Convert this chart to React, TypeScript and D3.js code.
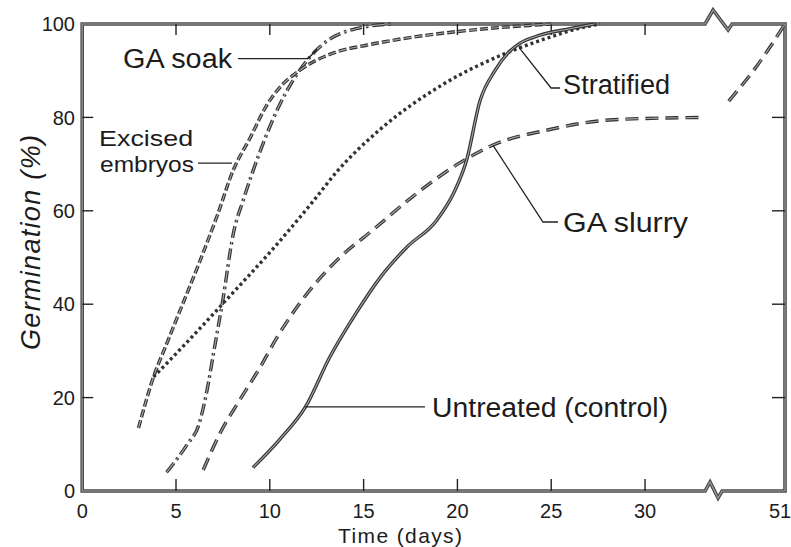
import React from 'react';
import * as d3 from 'd3';

// ---- data (days, % germination) ----
const gaSoakDays = [4.5, 5.6, 6.2, 6.65, 7.0, 7.5, 8.05, 8.6, 9.1, 9.65, 10.5, 11.25, 12.15, 13.1, 14.6, 16.5];
const gaSoakPct = [4, 10, 14, 21.5, 29.5, 41, 55, 62.5, 68.5, 74.5, 82.5, 88, 93, 96.5, 99, 100];

const excisedDays = [3.0, 3.8, 4.5, 5.2, 6.3, 7.2, 8.05, 8.95, 9.85, 10.55, 11.6, 13.4, 15.2, 17, 21, 25];
const excisedPct = [13.5, 24.4, 31.5, 38.5, 49.5, 59, 68.7, 75.6, 82.7, 86.5, 90.1, 93.8, 95.5, 96.8, 98.8, 100];

const stratifiedDays = [3.8, 5.5, 7.7, 10.2, 12.3, 13.6, 15.9, 19.2, 22.5, 24.8, 26.5, 27.6];
const stratifiedPct = [24.4, 31.5, 41, 52, 62, 68.5, 77.5, 87, 93.6, 97, 99.1, 100];

const gaSlurryDays = [6.45, 7.35, 8.4, 9.5, 10.4, 11.45, 13.6, 15.5, 17.6, 20.1, 21.9, 24.8, 28.3, 33];
const gaSlurryPct = [4.5, 12.4, 19.5, 26.6, 33, 39.4, 49.5, 55.9, 63, 70.2, 74.1, 77.3, 79.5, 80];
const gaSlurryLateDays = [48, 49.5, 51];
const gaSlurryLatePct = [83.5, 91, 100];

const untreatedDays = [9.1, 10.5, 11.9, 13.2, 14.6, 15.9, 17.3, 18.9, 19.8, 20.5, 21.2, 22.0, 22.7, 23.3, 24.4, 26.0, 27.3];
const untreatedPct = [5, 10.9, 18, 28.7, 38.1, 45.8, 52.2, 58, 63.8, 71, 83.5, 90, 93.8, 95.8, 97.6, 99, 100];

const xTicks = [5, 10, 15, 20, 25, 30];
const xTickLabels = ['0', '5', '10', '15', '20', '25', '30', '51'];
const xTickLabelDays = [0, 5, 10, 15, 20, 25, 30, 51];
const yTicks = [20, 40, 60, 80];
const yTickLabels = ['0', '20', '40', '60', '80', '100'];
const yTickLabelVals = [0, 20, 40, 60, 80, 100];

const zip = (a: number[], b: number[]) => a.map((v, i) => [v, b[i]] as [number, number]);

export default function App() {
  const W = 791, H = 547;
  const x = d3.scaleLinear().domain([0, 33.5, 48, 51]).range([82.2, 710.7, 728.7, 785]);
  const y = d3.scaleLinear().domain([0, 100]).range([491, 24]);
  const line = d3.line<[number, number]>().x(d => x(d[0])).y(d => y(d[1])).curve(d3.curveMonotoneX);

  const x0 = x(0), x1 = x(51), y0 = y(0), yT = y(100);
  const bl = x(33.2);
  const frame = [
    `M${x0},${yT}L${x0},${y0}L${bl},${y0}L${bl + 5},${y0 - 9}L${bl + 13},${y0 + 7}L${bl + 17},${y0}L${x1},${y0}`,
    `L${x1},${yT}L${bl + 27},${yT}L${bl + 23},${yT + 6}L${bl + 8},${yT - 14}L${bl},${yT}Z`,
  ].join('');

  const series = [
    { pts: zip(gaSoakDays, gaSoakPct), dash: '12 4 2.5 4', inner: true },
    { pts: zip(excisedDays, excisedPct), dash: '8 3', inner: true },
    { pts: zip(stratifiedDays, stratifiedPct), dash: '3 3', inner: false },
    { pts: zip(gaSlurryDays, gaSlurryPct), dash: '13 7', inner: true },
    { pts: zip(gaSlurryLateDays, gaSlurryLatePct), dash: '13 7', inner: true },
    { pts: zip(untreatedDays, untreatedPct), dash: undefined as string | undefined, inner: true },
  ];

  const font = "'Liberation Sans', Arial, sans-serif";
  const textFill = '#1c1c1c';

  // annotations (positions in data units)
  const labels = [
    { t: 'GA soak', d: 2.18, p: 90.6, w: 109, fs: 27 },
    { t: 'Excised', d: 0.9, p: 73.8, w: 94, fs: 22 },
    { t: 'embryos', d: 0.95, p: 68.4, w: 94, fs: 22 },
    { t: 'Stratified', d: 25.63, p: 85.0, w: 107, fs: 27 },
    { t: 'GA slurry', d: 25.63, p: 55.5, w: 125, fs: 27 },
    { t: 'Untreated (control)', d: 18.65, p: 15.8, w: 236, fs: 27 },
  ];
  const leaders: [number, number][][] = [
    [[8.31, 92.6], [12.04, 92.6], [12.52, 94.6]],
    [[6.17, 70.2], [7.98, 70.2]],
    [[23.28, 95.0], [24.99, 86.3], [25.47, 86.3]],
    [[21.9, 74.0], [24.56, 57.6], [25.36, 57.6]],
    [[11.88, 18.0], [18.27, 18.0]],
  ];
  const leaderLine = d3.line<[number, number]>().x(d => x(d[0])).y(d => y(d[1]));

  return (
    <svg width={W} height={H} style={{ position: 'absolute', left: 0, top: 0, background: '#fff' }}>
      <rect x={0} y={0} width={W} height={H} fill="#fff" />
      {/* frame */}
      <path d={frame} fill="none" stroke="#4a4a4a" strokeWidth={3.6} strokeLinejoin="miter" />
      <path d={frame} fill="none" stroke="#a0a0a0" strokeWidth={1.1} />
      {/* ticks */}
      {xTicks.map(t => (
        <g key={'xt' + t} stroke="#222" strokeWidth={1.4}>
          <line x1={x(t)} x2={x(t)} y1={y0} y2={y0 - 12} />
          <line x1={x(t)} x2={x(t)} y1={yT} y2={yT + 11} />
        </g>
      ))}
      {yTicks.map(t => (
        <g key={'yt' + t} stroke="#222" strokeWidth={1.4}>
          <line x1={x0} x2={x0 + 11} y1={y(t)} y2={y(t)} />
          <line x1={x1} x2={x1 - 13} y1={y(t)} y2={y(t)} />
        </g>
      ))}
      {/* tick labels */}
      {xTickLabels.map((l, i) => (
        <text key={'xl' + l} x={x(xTickLabelDays[i]) - (l === '51' ? 5 : 0)} y={518} textAnchor="middle"
          fontFamily={font} fontSize={20} fill={textFill}>{l}</text>
      ))}
      {yTickLabels.map((l, i) => (
        <text key={'yl' + l} x={75} y={y(yTickLabelVals[i])} dy="0.36em" textAnchor="end"
          fontFamily={font} fontSize={20} fill={textFill}>{l}</text>
      ))}
      {/* axis titles */}
      <text x={400} y={543} textAnchor="middle" fontFamily={font} fontSize={21} fill={textFill}
        textLength={124} lengthAdjust="spacing">Time (days)</text>
      <text transform={`translate(40,${(135 + 350) / 2}) rotate(-90)`} textAnchor="middle" fontFamily={font}
        fontStyle="italic" fontSize={27} fill={textFill} textLength={215} lengthAdjust="spacing">Germination (%)</text>
      {/* series */}
      {series.map((s, i) => {
        const d = line(s.pts) || '';
        return (
          <g key={'s' + i}>
            <path d={d} fill="none" stroke="#333" strokeWidth={3.4} strokeDasharray={s.dash} />
            {s.inner && <path d={d} fill="none" stroke="#a8a8a8" strokeWidth={1.1} strokeDasharray={s.dash} />}
          </g>
        );
      })}
      {/* leaders */}
      {leaders.map((l, i) => (
        <path key={'ld' + i} d={leaderLine(l) || ''} fill="none" stroke="#222" strokeWidth={1.3} />
      ))}
      {labels.map(l => (
        <text key={l.t} x={x(l.d)} y={y(l.p)} fontFamily={font} fontSize={l.fs} fill={textFill}
          textLength={l.w} lengthAdjust="spacingAndGlyphs">{l.t}</text>
      ))}
    </svg>
  );
}
